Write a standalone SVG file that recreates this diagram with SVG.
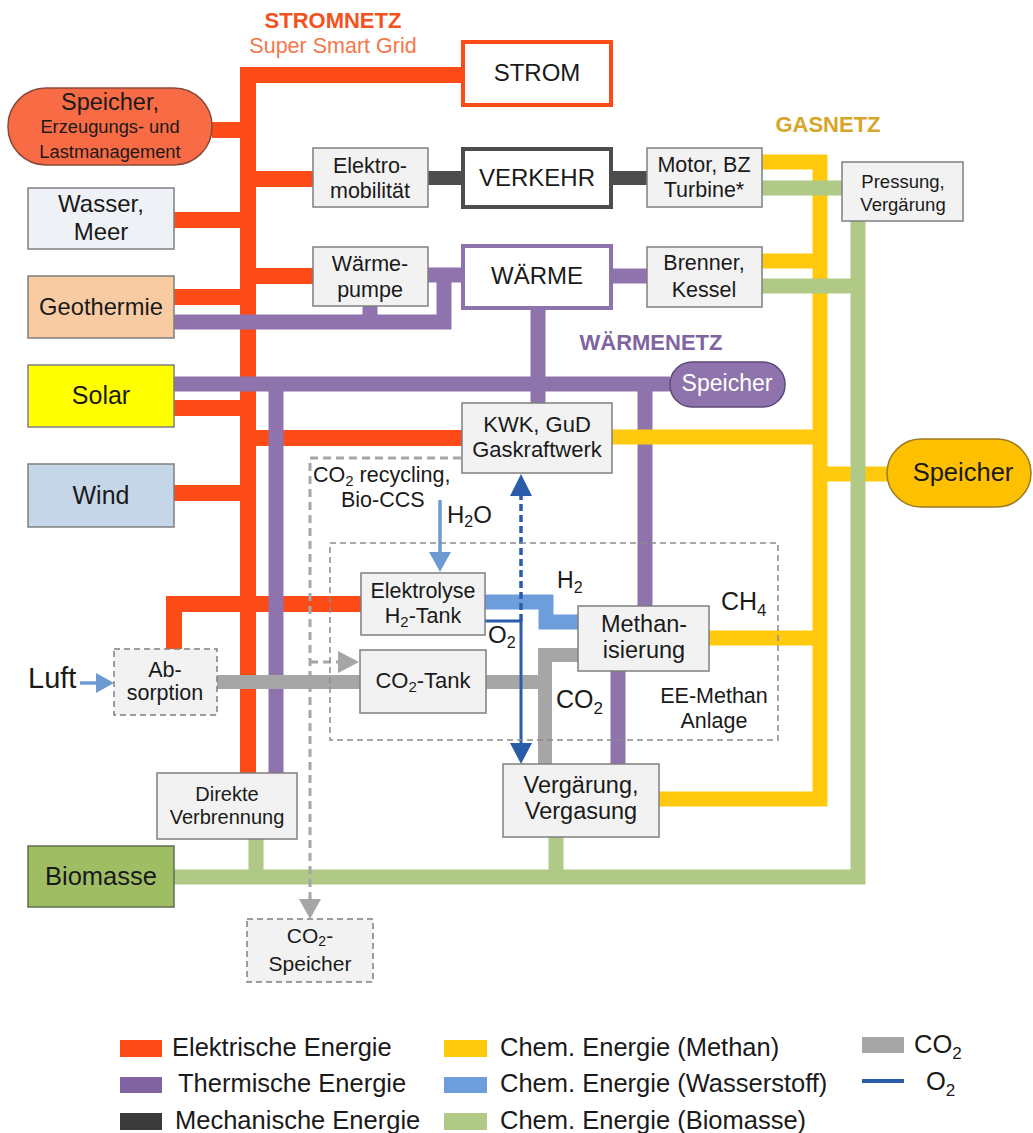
<svg xmlns="http://www.w3.org/2000/svg" width="1033" height="1133" viewBox="0 0 1033 1133">
<style>
text{font-family:"Liberation Sans",Arial,sans-serif;fill:#1a1a1a}
.c{text-anchor:middle}
.box{fill:#f2f2f2;stroke:#7f7f7f;stroke-width:1.5}
.dbox{fill:#f2f2f2;stroke:#7f7f7f;stroke-width:1.5;stroke-dasharray:6 4}
.ln{fill:none;stroke-linecap:butt;stroke-linejoin:miter}
.red{stroke:#fd4b18;stroke-width:16}
.pur{stroke:#8e73ad;stroke-width:15}
.mec{stroke:#4d4d4d;stroke-width:14}
.yel{stroke:#ffc90e;stroke-width:15}
.grn{stroke:#b0c986;stroke-width:15}
.h2{stroke:#6d9ddb;stroke-width:15}
.co2{stroke:#a6a6a6;stroke-width:14}
.o2{stroke:#2a5caa;stroke-width:3}
.lg{font-size:25.5px}
</style>
<g id="connectors">
<path class="ln red" d="M463,75 H248 V773"/>
<path class="ln red" d="M212,130 H248 M248,179 H313 M174,220 H248 M248,276 H313 M174,297 H248 M174,408 H248 M248,438 H462 M174,493 H248"/>
<path class="ln red" d="M361,604 H174 V649"/>
<path class="ln pur" d="M428,275 H463 M174,322 H444 V275 M370,306 V322"/>
<path class="ln pur" d="M174,384 H670 M276,384 V773 M538,308 V403 M645,384 V606 M618,671 V764 M611,276 H647"/>
<path class="ln mec" d="M428,178 H463 M611,178 H647"/>
<path class="ln yel" d="M762,162 H820 V799 H659"/>
<path class="ln yel" d="M762,261 H820 M612,437 H820 M820,474 H887 M709,638 H820"/>
<path class="ln grn" d="M762,188 H842 M858,221 V877 H174 M762,286 H858 M256,839 V877 M556,837 V877"/>
<path class="ln h2" d="M485,602 H546 V622 H578"/>
<path class="ln co2" d="M217,682 H360 M486,682 H545 M578,655 H545 V764"/>
<path class="ln" d="M440,500 V553" stroke="#6d9bd1" stroke-width="3.5"/>
<polygon points="429,552 451,552 440,572" fill="#6d9bd1"/>
<path class="ln" d="M80,683 H98" stroke="#6d9bd1" stroke-width="3.5"/>
<polygon points="96,673 96,693 114,683" fill="#6d9bd1"/>
<path class="ln o2" d="M485,621 H521 V745"/>
<polygon points="510,743 532,743 521,764" fill="#2a5caa"/>
<path class="ln" d="M521,621 V495" stroke="#2a5caa" stroke-width="3.5" stroke-dasharray="7 4"/>
<polygon points="510,496 532,496 521,474" fill="#2a5caa"/>
<path class="ln" d="M461,458 H310 V902" stroke="#a6a6a6" stroke-width="3" stroke-dasharray="8 5"/>
<polygon points="299,899 321,899 310,919" fill="#a6a6a6"/>
<path class="ln" d="M310,662 H340" stroke="#a6a6a6" stroke-width="3" stroke-dasharray="8 5"/>
<polygon points="338,651 338,673 359,662" fill="#a6a6a6"/>
</g>
<g id="labels">
<text x="333" y="28" class="c" font-size="22" font-weight="bold" style="fill:#f4511e">STROMNETZ</text>
<text x="333" y="53" class="c" font-size="21.5" style="fill:#f5774a">Super Smart Grid</text>
<text x="828" y="132" class="c" font-size="22" font-weight="bold" style="fill:#d6a628">GASNETZ</text>
<text x="651" y="350" class="c" font-size="22" font-weight="bold" style="fill:#8064a2">WÄRMENETZ</text>
<text x="313" y="482" font-size="21.5">CO<tspan font-size="15" dy="4">2</tspan><tspan dy="-4"> recycling,</tspan></text>
<text x="341" y="507" font-size="21.5">Bio-CCS</text>
<text x="447" y="523" font-size="24">H<tspan font-size="16" dy="4">2</tspan><tspan dy="-4">O</tspan></text>
<text x="557" y="588" font-size="23">H<tspan font-size="16" dy="5">2</tspan></text>
<text x="488" y="643" font-size="24">O<tspan font-size="16" dy="5">2</tspan></text>
<text x="721" y="610" font-size="25">CH<tspan font-size="17" dy="6">4</tspan></text>
<text x="556" y="708" font-size="25">CO<tspan font-size="17" dy="6">2</tspan></text>
<text x="714" y="703" class="c" font-size="21.5">EE-Methan</text>
<text x="714" y="728" class="c" font-size="21.5">Anlage</text>
<text x="28" y="688" font-size="29">Luft</text>
<rect x="330" y="543" width="448" height="197" fill="none" stroke="#8c8c8c" stroke-width="1.5" stroke-dasharray="6 4"/>
</g>
<g id="strom"><rect x="463" y="42" width="148" height="63" fill="#fff" stroke="#fd4b18" stroke-width="4"/><text x="537" y="81" class="c" font-size="24">STROM</text></g>
<g id="verkehr"><rect x="463" y="149" width="148" height="58" fill="#fff" stroke="#4d4d4d" stroke-width="4"/><text x="537" y="186" class="c" font-size="24">VERKEHR</text></g>
<g id="waerme"><rect x="463" y="246" width="148" height="62" fill="#fff" stroke="#8e73ad" stroke-width="4"/><text x="537" y="284" class="c" font-size="24">WÄRME</text></g>
<g id="speicher-strom"><rect x="8" y="88" width="204" height="77" rx="38" fill="#f86b45" stroke="#8a4a3a" stroke-width="1.5"/><text x="110" y="110" class="c" font-size="23.5">Speicher,</text><text x="110" y="133" class="c" font-size="18.3">Erzeugungs- und</text><text x="110" y="158" class="c" font-size="18.3">Lastmanagement</text></g>
<g id="wasser"><rect x="28" y="188" width="146" height="61" fill="#eef2f7" stroke="#7f7f7f" stroke-width="1.5"/><text x="101" y="212" class="c" font-size="24">Wasser,</text><text x="101" y="240" class="c" font-size="24">Meer</text></g>
<g id="geothermie"><rect x="28" y="276" width="146" height="62" fill="#f9cba3" stroke="#7f7f7f" stroke-width="1.5"/><text x="101" y="315" class="c" font-size="23.7">Geothermie</text></g>
<g id="solar"><rect x="28" y="365" width="146" height="62" fill="#ffff00" stroke="#7f7f7f" stroke-width="1.5"/><text x="101" y="404" class="c" font-size="25">Solar</text></g>
<g id="wind"><rect x="28" y="464" width="146" height="63" fill="#c6d6e9" stroke="#7f7f7f" stroke-width="1.5"/><text x="101" y="504" class="c" font-size="25">Wind</text></g>
<g id="biomasse"><rect x="28" y="846" width="146" height="61" fill="#9fbe63" stroke="#5f6f4f" stroke-width="1.5"/><text x="101" y="885" class="c" font-size="25.5">Biomasse</text></g>
<g id="elektromobilitaet"><rect x="313" y="148" width="115" height="59" class="box"/><text x="370" y="173" class="c" font-size="21.5">Elektro-</text><text x="370" y="198" class="c" font-size="21.5">mobilität</text></g>
<g id="waermepumpe"><rect x="313" y="247" width="115" height="59" class="box"/><text x="370" y="271" class="c" font-size="21.5">Wärme-</text><text x="370" y="297" class="c" font-size="21.5">pumpe</text></g>
<g id="motor"><rect x="647" y="148" width="115" height="59" class="box"/><text x="704" y="172" class="c" font-size="21.5">Motor, BZ</text><text x="704" y="197" class="c" font-size="21.5">Turbine*</text></g>
<g id="pressung"><rect x="842" y="162" width="121" height="59" class="box"/><text x="903" y="188" class="c" font-size="18.5">Pressung,</text><text x="903" y="211" class="c" font-size="18.5">Vergärung</text></g>
<g id="brenner"><rect x="647" y="247" width="115" height="60" class="box"/><text x="704" y="270" class="c" font-size="21.5">Brenner,</text><text x="704" y="297" class="c" font-size="21.5">Kessel</text></g>
<g id="kwk"><rect x="462" y="403" width="150" height="70" class="box"/><text x="537" y="432" class="c" font-size="22">KWK, GuD</text><text x="537" y="457" class="c" font-size="22">Gaskraftwerk</text></g>
<g id="speicher-waerme"><rect x="670" y="362" width="115" height="45" rx="22" fill="#8e73ad" stroke="#5e4a7a" stroke-width="1.5"/><text x="727" y="391" class="c" font-size="23" style="fill:#fff">Speicher</text></g>
<g id="speicher-gas"><rect x="887" y="439" width="144" height="68" rx="34" fill="#ffc000" stroke="#9a7a20" stroke-width="1.5"/><text x="963" y="481" class="c" font-size="25.5">Speicher</text></g>
<g id="elektrolyse"><rect x="361" y="573" width="124" height="62" class="box"/><text x="423" y="598" class="c" font-size="21.5">Elektrolyse</text><text x="423" y="623" class="c" font-size="21.5">H<tspan font-size="15" dy="4">2</tspan><tspan dy="-4">-Tank</tspan></text></g>
<g id="co2-tank"><rect x="360" y="650" width="126" height="63" class="box"/><text x="423" y="688" class="c" font-size="22">CO<tspan font-size="15" dy="4">2</tspan><tspan dy="-4">-Tank</tspan></text></g>
<g id="methanisierung"><rect x="578" y="606" width="131" height="65" class="box"/><text x="644" y="632" class="c" font-size="23.5">Methan-</text><text x="644" y="658" class="c" font-size="23.5">isierung</text></g>
<g id="vergaerung"><rect x="503" y="764" width="156" height="73" class="box"/><text x="581" y="793" class="c" font-size="23.5">Vergärung,</text><text x="581" y="819" class="c" font-size="23.5">Vergasung</text></g>
<g id="absorption"><rect x="114" y="649" width="103" height="66" class="dbox"/><text x="165" y="677" class="c" font-size="21.5">Ab-</text><text x="165" y="700" class="c" font-size="21.5">sorption</text></g>
<g id="direkte"><rect x="157" y="773" width="140" height="66" class="box"/><text x="227" y="801" class="c" font-size="20">Direkte</text><text x="227" y="824" class="c" font-size="20">Verbrennung</text></g>
<g id="co2-speicher"><rect x="247" y="919" width="126" height="63" class="dbox"/><text x="310" y="943" class="c" font-size="21">CO<tspan font-size="14" dy="3">2</tspan><tspan dy="-3">-</tspan></text><text x="310" y="971" class="c" font-size="21">Speicher</text></g>
<g id="legend">
<rect x="120" y="1040" width="42" height="17" fill="#fd4b18"/><text x="172" y="1056" class="lg">Elektrische Energie</text>
<rect x="120" y="1077" width="42" height="16" fill="#8064a2"/><text x="178" y="1092" class="lg">Thermische Energie</text>
<rect x="120" y="1113" width="42" height="17" fill="#3a3a3a"/><text x="175" y="1129" class="lg">Mechanische Energie</text>
<rect x="444" y="1040" width="43" height="17" fill="#ffc90e"/><text x="500" y="1056" class="lg">Chem. Energie (Methan)</text>
<rect x="444" y="1077" width="43" height="16" fill="#6d9ddb"/><text x="500" y="1092" class="lg">Chem. Energie (Wasserstoff)</text>
<rect x="444" y="1113" width="43" height="17" fill="#b0c986"/><text x="500" y="1129" class="lg">Chem. Energie (Biomasse)</text>
<rect x="862" y="1037" width="42" height="16" fill="#a6a6a6"/><text x="914" y="1053" class="lg">CO<tspan font-size="17" dy="6">2</tspan></text>
<rect x="862" y="1079" width="42" height="4" fill="#2a5caa"/><text x="926" y="1090" class="lg">O<tspan font-size="17" dy="6">2</tspan></text>
</g>
</svg>
